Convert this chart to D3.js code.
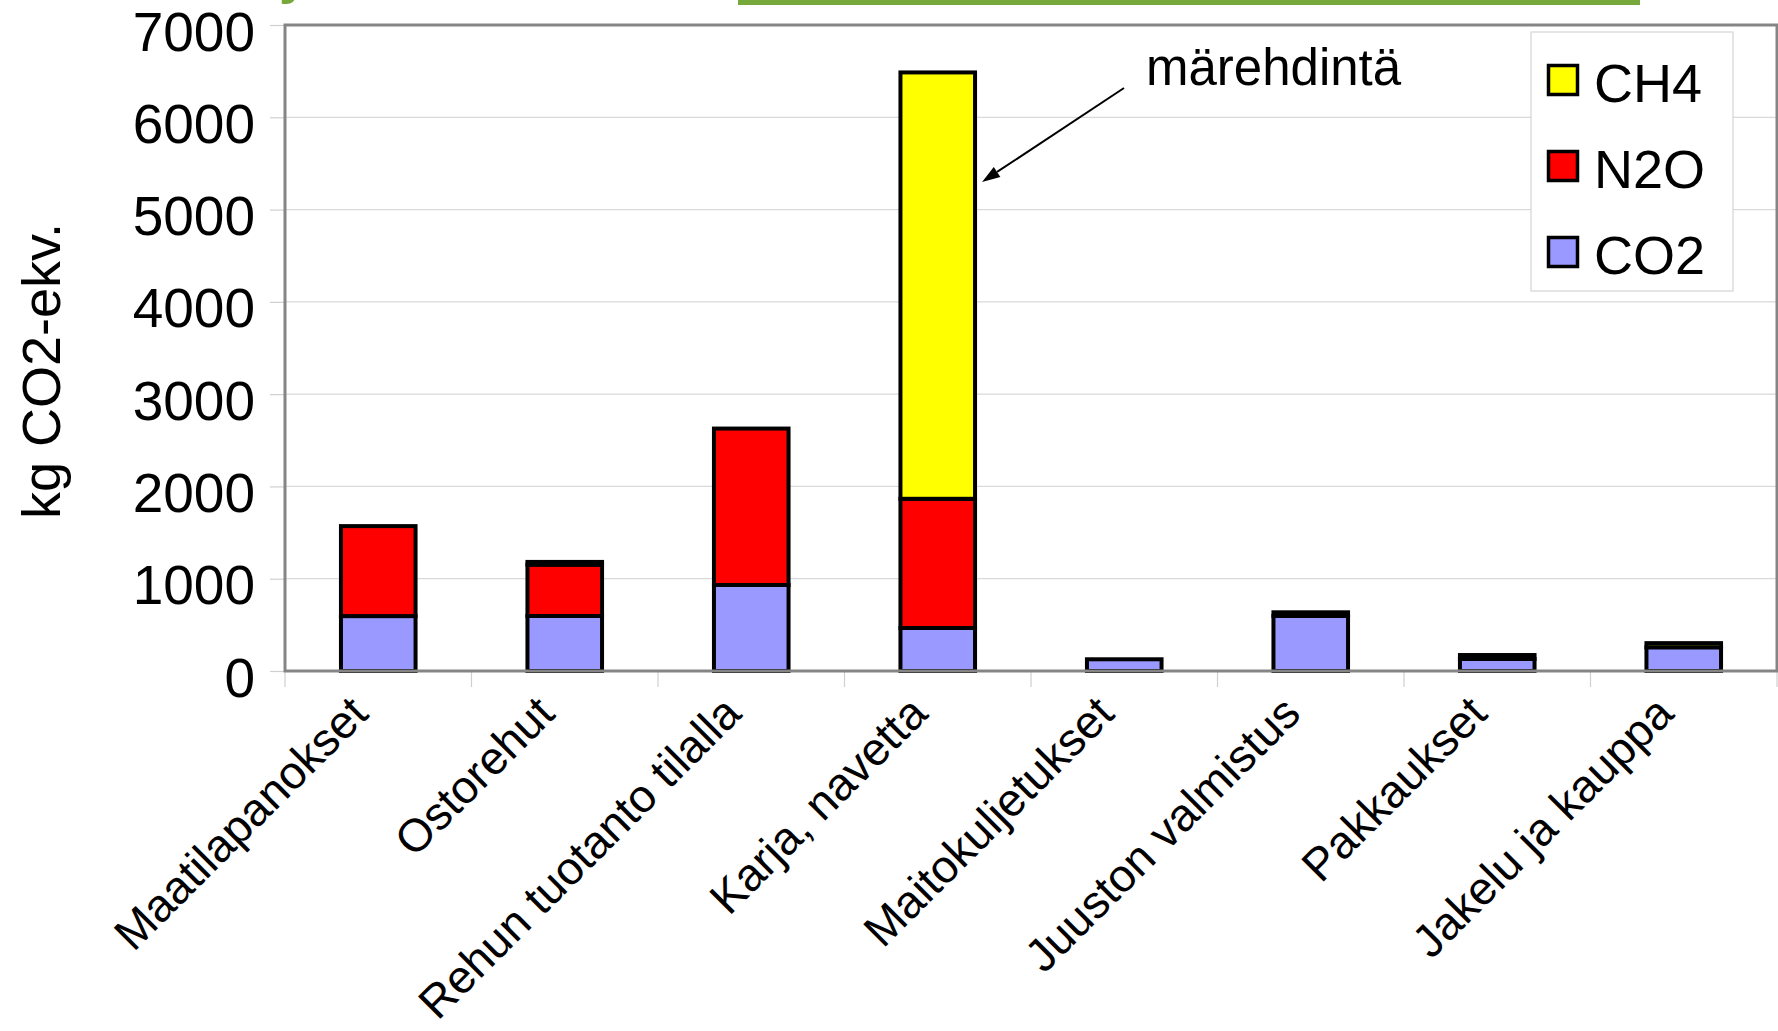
<!DOCTYPE html>
<html>
<head>
<meta charset="utf-8">
<script src="https://cdn.jsdelivr.net/npm/d3@7"></script>
<style>
  body { margin: 0; background: #ffffff; }
  svg { display: block; }
  text { font-family: "Liberation Sans", Arial, Helvetica, sans-serif; fill: #000; }
</style>
</head>
<body>
<svg id="chart" width="1778" height="1031"></svg>
<script>
// Greenhouse gas emissions per production stage (kg CO2-eq.)
const categories = [
  "Maatilapanokset",
  "Ostorehut",
  "Rehun tuotanto tilalla",
  "Karja, navetta",
  "Maitokuljetukset",
  "Juuston valmistus",
  "Pakkaukset",
  "Jakelu ja kauppa"
];
const seriesKeys = ["CO2", "N2O", "CH4"];          // stacking order, bottom to top
const legendKeys = ["CH4", "N2O", "CO2"];          // legend order, top to bottom
const co2Values = [595, 596, 932, 466, 127, 596, 130, 257];
const n2oValues = [975, 556, 1695, 1400, 0, 0, 0, 0];
const ch4Values = [0, 30, 0, 4620, 0, 40, 43, 45];
const yTickValues = [0, 1000, 2000, 3000, 4000, 5000, 6000, 7000];
const yTitle = "kg CO2-ekv.";
const noteText = "märehdintä";
const noteValue = 5300;                             // level the arrow points at
const noteCategory = "Karja, navetta";

const colors = { CO2: "#9999ff", N2O: "#ff0000", CH4: "#ffff00" };

const svg = d3.select("#chart");
const W = 1778, H = 1031;
const plot = { left: 285, top: 25, right: 1777, bottom: 671 };

svg.append("rect").attr("width", W).attr("height", H).attr("fill", "#ffffff");

// slide header remnants: green rule and the clipped tail of the title
svg.append("rect").attr("x", 738).attr("y", 0).attr("width", 902).attr("height", 5).attr("fill", "#77a83b");
svg.append("text").attr("x", 279).attr("y", -7).attr("font-size", 54).attr("font-weight", "bold")
  .style("fill", "#77a83b").text("y");

const x = d3.scaleBand().domain(categories).range([plot.left, plot.right])
  .paddingInner(0.6).paddingOuter(0.3);
const y = d3.scaleLinear().domain([0, 7000]).range([plot.bottom, plot.top]);

// horizontal gridlines
svg.append("g").selectAll("line").data(yTickValues.filter(v => v > 0 && v < 7000)).join("line")
  .attr("x1", plot.left).attr("x2", plot.right)
  .attr("y1", d => y(d)).attr("y2", d => y(d))
  .attr("stroke", "#d9d9d9").attr("stroke-width", 1.2);

// value axis
const yAxis = svg.append("g").attr("transform", `translate(${plot.left},0)`)
  .call(d3.axisLeft(y).tickValues(yTickValues).tickSize(15).tickPadding(15).tickFormat(d3.format("d")));
yAxis.select(".domain").remove();
yAxis.selectAll(".tick line").attr("stroke", "#cfcfcf").attr("stroke-width", 1.2);
yAxis.selectAll(".tick text").attr("font-size", 55).attr("dy", "0.80em").attr("y", -19)
  .style("font-family", "'Liberation Sans', Arial, sans-serif");

// category separators below the axis
const step = x.step();
const boundaries = d3.range(categories.length + 1).map(i => plot.left + i * step);
svg.append("g").selectAll("line").data(boundaries).join("line")
  .attr("x1", d => d).attr("x2", d => d)
  .attr("y1", plot.bottom).attr("y2", plot.bottom + 16)
  .attr("stroke", "#cfcfcf").attr("stroke-width", 1.2);

// stacked bars
const rows = categories.map((c, i) => ({ cat: c, CO2: co2Values[i], N2O: n2oValues[i], CH4: ch4Values[i] }));
const stacked = d3.stack().keys(seriesKeys)(rows);
svg.append("g").selectAll("g").data(stacked).join("g")
  .attr("fill", s => colors[s.key])
  .selectAll("rect").data(s => s.filter(d => d[1] - d[0] > 0)).join("rect")
  .attr("x", d => x(d.data.cat))
  .attr("width", x.bandwidth())
  .attr("y", d => y(d[1]))
  .attr("height", d => y(d[0]) - y(d[1]))
  .attr("stroke", "#000").attr("stroke-width", 4);

// plot frame
svg.append("rect").attr("x", plot.left).attr("y", plot.top)
  .attr("width", plot.right - plot.left).attr("height", plot.bottom - plot.top)
  .attr("fill", "none").attr("stroke", "#858585").attr("stroke-width", 3);

// category labels, rotated so that each ends under its bar
svg.append("g").selectAll("text").data(categories).join("text")
  .attr("text-anchor", "end")
  .attr("font-size", 46)
  .attr("transform", d => `translate(${x(d) + x.bandwidth() / 2 - 8},${plot.bottom + 45}) rotate(-45)`)
  .text(d => d);

// value axis title
svg.append("text").attr("text-anchor", "middle").attr("font-size", 54)
  .attr("transform", `translate(60,371) rotate(-90)`).text(yTitle);

// annotation with arrow
const noteX = 1146, noteY = 85;
svg.append("text").attr("x", noteX).attr("y", noteY).attr("font-size", 51).text(noteText);
const tip = [x(noteCategory) + x.bandwidth() + 7, y(noteValue)];
const start = [noteX - 22, noteY + 3];
const ang = Math.atan2(tip[1] - start[1], tip[0] - start[0]);
const headLen = 18, headHalf = 6;
const base = [tip[0] - headLen * Math.cos(ang), tip[1] - headLen * Math.sin(ang)];
svg.append("line").attr("x1", start[0]).attr("y1", start[1]).attr("x2", base[0]).attr("y2", base[1])
  .attr("stroke", "#000").attr("stroke-width", 2);
svg.append("path").attr("fill", "#000").attr("d", d3.line()([
  tip,
  [base[0] + headHalf * Math.sin(ang), base[1] - headHalf * Math.cos(ang)],
  [base[0] - headHalf * Math.sin(ang), base[1] + headHalf * Math.cos(ang)]
]));

// legend
const lg = svg.append("g");
lg.append("rect").attr("x", 1531).attr("y", 32).attr("width", 202).attr("height", 259)
  .attr("fill", "#ffffff").attr("stroke", "#d4d4d4").attr("stroke-width", 1.2);
const items = lg.selectAll("g.item").data(legendKeys).join("g").attr("class", "item")
  .attr("transform", (d, i) => `translate(1563,${80 + i * 86})`);
items.append("rect").attr("x", -14.5).attr("y", -14.5).attr("width", 29).attr("height", 29)
  .attr("fill", d => colors[d]).attr("stroke", "#000").attr("stroke-width", 3.5);
items.append("text").attr("x", 31).attr("y", 22).attr("font-size", 54).text(d => d);
</script>
</body>
</html>
